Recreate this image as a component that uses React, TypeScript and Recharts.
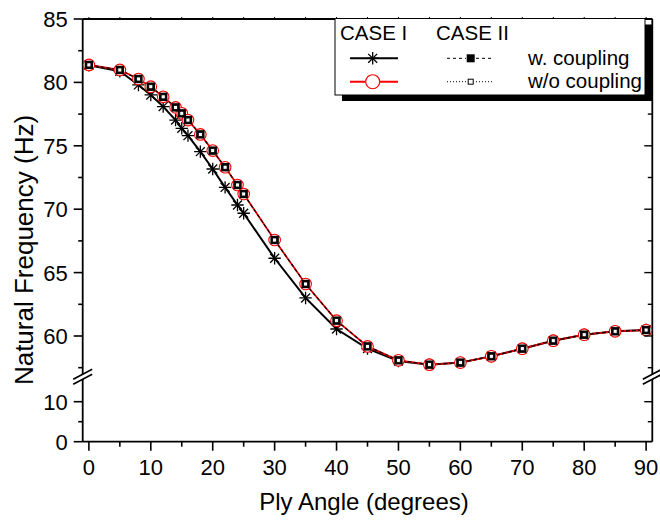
import React from 'react';
import { LineChart, Line, XAxis, YAxis } from 'recharts';

// ---- Data ----
const angles = [0, 5, 8, 10, 12, 14, 15, 16, 18, 20, 22, 24, 25, 30, 35, 40, 45, 50, 55, 60, 65, 70, 75, 80, 85, 90];
const caseIWithCoupling = [81.35, 80.88, 79.8, 79.01, 78.09, 77.03, 76.38, 75.8, 74.54, 73.17, 71.72, 70.33, 69.68, 66.13, 63.0, 60.55, 59.0, 58.02, 57.74, 57.9, 58.4, 59.0, 59.63, 60.1, 60.38, 60.47];
const caseIWithoutCoupling = [81.38, 80.98, 80.27, 79.66, 78.86, 78.03, 77.56, 77.03, 75.9, 74.62, 73.31, 71.91, 71.2, 67.57, 64.1, 61.21, 59.18, 58.08, 57.74, 57.9, 58.4, 59.0, 59.63, 60.1, 60.37, 60.47];
const caseIIWithCoupling = [81.38, 80.98, 80.27, 79.66, 78.86, 78.03, 77.56, 77.03, 75.9, 74.62, 73.31, 71.91, 71.2, 67.57, 64.1, 61.21, 59.18, 58.08, 57.74, 57.9, 58.4, 59.0, 59.63, 60.1, 60.37, 60.47];
const caseIIWithoutCoupling = [81.38, 80.98, 80.27, 79.66, 78.86, 78.03, 77.56, 77.03, 75.9, 74.62, 73.31, 71.91, 71.2, 67.57, 64.1, 61.21, 59.18, 58.08, 57.74, 57.9, 58.4, 59.0, 59.63, 60.1, 60.37, 60.47];

const xTicks = [0, 5, 10, 15, 20, 25, 30, 35, 40, 45, 50, 55, 60, 65, 70, 75, 80, 85, 90];
const upperYTicks = [57.5, 60, 62.5, 65, 67.5, 70, 72.5, 75, 77.5, 80, 82.5, 85];
const lowerYTicks = [0, 5, 10];
const lowerRightTicks = [5, 10];
const upperDomain: [number, number] = [56.9, 85];
const lowerDomain: [number, number] = [0, 16.6];
const xDomain: [number, number] = [-1, 91];

const xTitle = 'Ply Angle (degrees)';
const yTitle = 'Natural Frequency (Hz)';
const legendHeaders = ['CASE I', 'CASE II'];
const legendRows = ['w. coupling', 'w/o coupling'];

const data = angles.map((a, i) => ({
  angle: a,
  c1w: caseIWithCoupling[i],
  c1wo: caseIWithoutCoupling[i],
  c2w: caseIIWithCoupling[i],
  c2wo: caseIIWithoutCoupling[i],
}));

const FONT = "'Liberation Sans', Arial, Helvetica, sans-serif";
const AX = { stroke: '#000', strokeWidth: 1.8 };

// ---- Tick renderers ----
const LeftTick = (majorStep: number) => (p: any) => {
  const { x, y, payload } = p;
  const v = payload.value;
  const major = Math.abs(v % majorStep) < 1e-9;
  return (
    <g>
      <line x1={x - (major ? 9 : 4.5)} x2={x} y1={y} y2={y} stroke="#000" strokeWidth={1.6} />
      {major && (
        <text x={x - 15} y={y} dy="0.36em" textAnchor="end" fontSize={22} fontFamily={FONT} fill="#000">
          {v}
        </text>
      )}
    </g>
  );
};
const RightTick = (majorStep: number) => (p: any) => {
  const { x, y, payload } = p;
  const v = payload.value;
  const major = Math.abs(v % majorStep) < 1e-9;
  return <line x1={x - (major ? 8 : 4.5)} x2={x} y1={y} y2={y} stroke="#000" strokeWidth={1.4} />;
};
const BottomTick = (p: any) => {
  const { x, y, payload } = p;
  const v = payload.value;
  const major = v % 10 === 0;
  return (
    <g>
      <line x1={x} x2={x} y1={y} y2={y + (major ? 9 : 5)} stroke="#000" strokeWidth={1.6} />
      {major && (
        <text x={x} y={y + 33} textAnchor="middle" fontSize={22} fontFamily={FONT} fill="#000">
          {v}
        </text>
      )}
    </g>
  );
};
const TopTick = (p: any) => {
  const { x, y } = p;
  return <line x1={x} x2={x} y1={y - 2} y2={y} stroke="#000" strokeWidth={1} />;
};

// ---- Marker renderers ----
const AsteriskDot = (p: any) => {
  const { cx, cy, index } = p;
  if (cx == null || cy == null) return <g key={`a${index}`} />;
  const r = 6.2;
  const d = r * 0.72;
  return (
    <g key={`a${index}`} stroke="#000" strokeWidth={1.3}>
      <line x1={cx - r} y1={cy} x2={cx + r} y2={cy} />
      <line x1={cx} y1={cy - r} x2={cx} y2={cy + r} />
      <line x1={cx - d} y1={cy - d} x2={cx + d} y2={cy + d} />
      <line x1={cx - d} y1={cy + d} x2={cx + d} y2={cy - d} />
    </g>
  );
};
const FilledSquare = (p: any) => {
  const { cx, cy, index } = p;
  if (cx == null || cy == null) return <g key={`f${index}`} />;
  return <rect key={`f${index}`} x={cx - 4.2} y={cy - 4.2} width={8.4} height={8.4} fill="#000" />;
};
const OpenSquare = (p: any) => {
  const { cx, cy, index } = p;
  if (cx == null || cy == null) return <g key={`o${index}`} />;
  return <rect key={`o${index}`} x={cx - 2} y={cy - 2} width={4} height={4} fill="#fff" stroke="#000" strokeWidth={0.8} />;
};

const PLOT_LEFT = 82.7;
const PLOT_RIGHT = 652.3;
const PLOT_TOP = 19;
const BREAK_Y = 375.3;
const PLOT_BOTTOM = 441.7;

export default function App() {
  return (
    <div style={{ position: 'fixed', left: 0, top: 0, width: 660, height: 520, background: '#fff' }}>
      {/* Upper part of the broken axis (with data) */}
      <div style={{ position: 'absolute', left: 0, top: 0 }}>
        <LineChart
          width={660}
          height={520}
          data={data}
          margin={{ top: PLOT_TOP - 1, right: 660 - PLOT_RIGHT - 1, left: PLOT_LEFT - 1, bottom: 520 - BREAK_Y }}
        >
          <XAxis
            xAxisId="top"
            orientation="top"
            type="number"
            dataKey="angle"
            domain={xDomain}
            ticks={xTicks}
            interval={0}
            height={1}
            tickSize={0}
            tickMargin={0}
            tickLine={false}
            tick={TopTick}
            axisLine={AX}
            allowDataOverflow
          />
          <YAxis
            yAxisId="l"
            orientation="left"
            type="number"
            domain={upperDomain}
            ticks={upperYTicks}
            interval={0}
            width={1}
            tickSize={0}
            tickMargin={0}
            tickLine={false}
            tick={LeftTick(5)}
            axisLine={AX}
            allowDataOverflow
          />
          <YAxis
            yAxisId="r"
            orientation="right"
            type="number"
            domain={upperDomain}
            ticks={upperYTicks}
            interval={0}
            width={1}
            tickSize={0}
            tickMargin={0}
            tickLine={false}
            tick={RightTick(5)}
            axisLine={AX}
            allowDataOverflow
          />
          <Line xAxisId="top" yAxisId="l" type="linear" dataKey="c1w" stroke="#000" strokeWidth={2} dot={AsteriskDot} isAnimationActive={false} />
          <Line xAxisId="top" yAxisId="l" type="linear" dataKey="c1wo" stroke="#ff0000" strokeWidth={1.8} dot={{ r: 5.8, stroke: '#ff0000', strokeWidth: 1.1, fill: '#fff' }} isAnimationActive={false} />
          <Line xAxisId="top" yAxisId="l" type="linear" dataKey="c2w" stroke="#000" strokeWidth={1.2} strokeDasharray="3 3" dot={FilledSquare} isAnimationActive={false} />
          <Line xAxisId="top" yAxisId="l" type="linear" dataKey="c2wo" stroke="#000" strokeWidth={1} strokeDasharray="1 2" dot={OpenSquare} isAnimationActive={false} />
        </LineChart>
      </div>

      {/* Lower part of the broken axis */}
      <div style={{ position: 'absolute', left: 0, top: 0 }}>
        <LineChart
          width={660}
          height={520}
          data={data}
          margin={{ top: BREAK_Y, right: 660 - PLOT_RIGHT - 1, left: PLOT_LEFT - 1, bottom: 520 - PLOT_BOTTOM - 1 }}
        >
          <XAxis
            xAxisId="bottom"
            orientation="bottom"
            type="number"
            dataKey="angle"
            domain={xDomain}
            ticks={xTicks}
            interval={0}
            height={1}
            tickSize={0}
            tickMargin={0}
            tickLine={false}
            tick={BottomTick}
            axisLine={AX}
            allowDataOverflow
          />
          <YAxis
            yAxisId="l"
            orientation="left"
            type="number"
            domain={lowerDomain}
            ticks={lowerYTicks}
            interval={0}
            width={1}
            tickSize={0}
            tickMargin={0}
            tickLine={false}
            tick={LeftTick(10)}
            axisLine={AX}
            allowDataOverflow
          />
          <YAxis
            yAxisId="r"
            orientation="right"
            type="number"
            domain={lowerDomain}
            ticks={lowerRightTicks}
            interval={0}
            width={1}
            tickSize={0}
            tickMargin={0}
            tickLine={false}
            tick={RightTick(10)}
            axisLine={AX}
            allowDataOverflow
          />
        </LineChart>
      </div>

      {/* Titles, axis-break marks and legend */}
      <svg
        width={660}
        height={520}
        style={{ position: 'absolute', left: 0, top: 0, pointerEvents: 'none' }}
        fontFamily={FONT}
      >
        <text x={364} y={510} textAnchor="middle" fontSize={24} fill="#000">
          {xTitle}
        </text>
        <text transform="translate(33,250) rotate(-90)" textAnchor="middle" fontSize={26} fill="#000">
          {yTitle}
        </text>

        {[PLOT_LEFT, PLOT_RIGHT].map((bx, i) => (
          <g key={`brk${i}`}>
            <polygon points={`${bx - 9.5},${BREAK_Y + 4} ${bx + 9.5},${BREAK_Y - 6} ${bx + 9.5},${BREAK_Y - 1} ${bx - 9.5},${BREAK_Y + 9}`} fill="#fff" />
            <line x1={bx - 9.5} y1={BREAK_Y + 4} x2={bx + 9.5} y2={BREAK_Y - 6} stroke="#000" strokeWidth={1.6} />
            <line x1={bx - 9.5} y1={BREAK_Y + 9} x2={bx + 9.5} y2={BREAK_Y - 1} stroke="#000" strokeWidth={1.6} />
          </g>
        ))}

        {/* Legend */}
        <rect x={342} y={24.5} width={310} height={76.5} fill="#000" />
        <rect x={335} y={18.5} width={310} height={76.5} fill="#fff" stroke="#000" strokeWidth={1} />
        <text x={340} y={39.5} fontSize={20.5} fill="#000">{legendHeaders[0]}</text>
        <text x={436} y={39.5} fontSize={20.5} fill="#000">{legendHeaders[1]}</text>
        <text x={528} y={65} fontSize={20.5} fill="#000">{legendRows[0]}</text>
        <text x={528} y={88} fontSize={20.5} fill="#000">{legendRows[1]}</text>

        <line x1={350} y1={58.3} x2={398} y2={58.3} stroke="#000" strokeWidth={2} />
        {AsteriskDot({ cx: 372.7, cy: 58.3, index: 'lg' })}
        <line x1={447} y1={58.3} x2={466} y2={58.3} stroke="#000" strokeWidth={1} strokeDasharray="3 3" />
        <line x1={476} y1={58.3} x2={494} y2={58.3} stroke="#000" strokeWidth={1} strokeDasharray="3 3" />
        <rect x={466.7} y={54.3} width={8} height={8} fill="#000" />

        <line x1={350} y1={81.7} x2={398} y2={81.7} stroke="#ff0000" strokeWidth={2} />
        <circle cx={372.7} cy={81.7} r={7} fill="#fff" stroke="#ff0000" strokeWidth={1.1} />
        <line x1={447} y1={81.7} x2={466} y2={81.7} stroke="#000" strokeWidth={1} strokeDasharray="1 2" />
        <line x1={476} y1={81.7} x2={494} y2={81.7} stroke="#000" strokeWidth={1} strokeDasharray="1 2" />
        <rect x={468.2} y={79.2} width={5} height={5} fill="#fff" stroke="#000" strokeWidth={1} />
      </svg>
    </div>
  );
}
